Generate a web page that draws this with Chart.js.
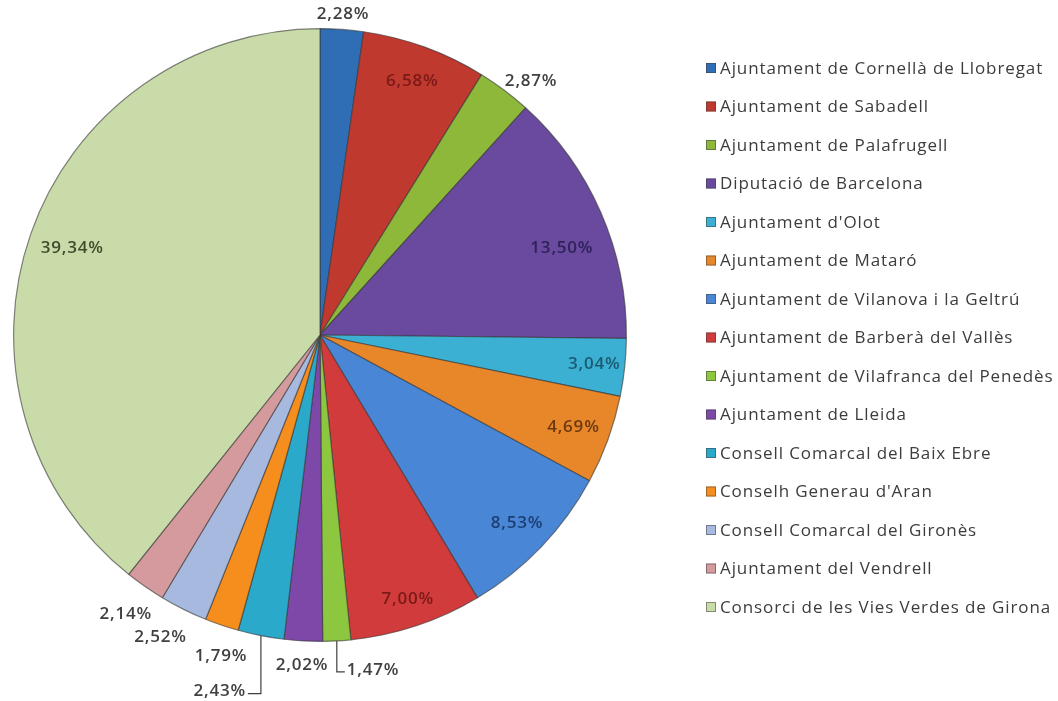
<!DOCTYPE html>
<html>
<head>
<meta charset="utf-8">
<script src="https://cdn.jsdelivr.net/npm/chart.js@4.4.0/dist/chart.umd.min.js"></script>
<style>
  html, body { margin: 0; padding: 0; background: #fff; }
  #wrap { width: 1058px; height: 701px; position: relative; }
</style>
</head>
<body>
<div id="wrap"><canvas id="pie"></canvas></div>
<script>
// data
var entities = [
  "Ajuntament de Cornellà de Llobregat",
  "Ajuntament de Sabadell",
  "Ajuntament de Palafrugell",
  "Diputació de Barcelona",
  "Ajuntament d'Olot",
  "Ajuntament de Mataró",
  "Ajuntament de Vilanova i la Geltrú",
  "Ajuntament de Barberà del Vallès",
  "Ajuntament de Vilafranca del Penedès",
  "Ajuntament de Lleida",
  "Consell Comarcal del Baix Ebre",
  "Conselh Generau d'Aran",
  "Consell Comarcal del Gironès",
  "Ajuntament del Vendrell",
  "Consorci de les Vies Verdes de Girona"
];
var shares = [2.28, 6.58, 2.87, 13.50, 3.04, 4.69, 8.53, 7.00, 1.47, 2.02, 2.43, 1.79, 2.52, 2.14, 39.34];

// styles
var sliceColors = ["#2f6db5", "#c0392f", "#8db83a", "#6a4a9e", "#3bb0d3", "#e8862a",
  "#4a86d6", "#d23b3b", "#8dc63f", "#7e48a8", "#2ba9cb", "#f68e1e",
  "#a7b9de", "#d49a9e", "#c8dba8"];
var textColors = ["#404040", "#7a1a17", "#404040", "#2f2259", "#1c5a72", "#6b3a10",
  "#1c3f73", "#7a1a17", "#404040", "#404040", "#404040", "#404040",
  "#404040", "#404040", "#3f4d2c"];
// where each percentage sits: radius as part of R, small nudges, leader lines
var labelPlace = [
  {r: 1.05, dx: 0, dy: 0},
  {r: 0.88, dx: 0, dy: 0},
  {r: 1.08, dx: 12, dy: 10},
  {r: 0.84, dx: 6, dy: 16},
  {r: 0.90, dx: 0, dy: 0},
  {r: 0.88, dx: 0, dy: 0},
  {r: 0.89, dx: 0, dy: 0},
  {r: 0.91, dx: 0, dy: 0},
  {leader: "right", drop: 31},
  {r: 1.08, dx: 0, dy: 0},
  {leader: "left", drop: 58},
  {r: 1.10, dx: 9, dy: 2},
  {r: 1.11, dx: -8, dy: -2},
  {r: 1.11, dx: 0, dy: 0},
  {r: 0.857, dx: 0, dy: 0}
];

var pctFont = "600 17px 'Open Sans'";
var legendFont = "17px 'Open Sans'";

let fmt = (v) => v.toFixed(2).replace(".", ",") + "%";

var pctLabels = {
  id: "pctLabels",
  afterDatasetsDraw(chart) {
    let ctx = chart.ctx;
    let arcs = chart.getDatasetMeta(0).data;
    ctx.save();
    ctx.font = pctFont;
    ctx.letterSpacing = "0.8px";
    ctx.textBaseline = "middle";
    arcs.forEach(function (arc, i) {
      let p = labelPlace[i];
      let mid = (arc.startAngle + arc.endAngle) / 2;
      let R = arc.outerRadius;
      ctx.fillStyle = textColors[i];
      if (p.leader) {
        let ex = arc.x + Math.cos(mid) * R;
        let ey = arc.y + Math.sin(mid) * R;
        let ly = ey + p.drop;
        let hx = p.leader == "right" ? ex + 8 : ex - 13;
        ctx.strokeStyle = "#404040";
        ctx.lineWidth = 1.2;
        ctx.beginPath();
        ctx.moveTo(ex, ey);
        ctx.lineTo(ex, ly);
        ctx.lineTo(hx, ly);
        ctx.stroke();
        ctx.textAlign = p.leader == "right" ? "left" : "right";
        ctx.fillText(fmt(shares[i]), p.leader == "right" ? hx + 2 : hx - 2, ly - 2);
      } else {
        let x = arc.x + Math.cos(mid) * R * p.r + p.dx;
        let y = arc.y + Math.sin(mid) * R * p.r + p.dy;
        ctx.textAlign = "center";
        ctx.fillText(fmt(shares[i]), x, y);
      }
    });
    ctx.restore();
  }
};

var sideLegend = {
  id: "sideLegend",
  afterDraw(chart) {
    let ctx = chart.ctx;
    ctx.save();
    ctx.font = legendFont;
    ctx.letterSpacing = "0.9px";
    ctx.textBaseline = "middle";
    ctx.textAlign = "left";
    entities.forEach(function (name, i) {
      let y = 68 + i * 38.5;
      ctx.fillStyle = sliceColors[i];
      ctx.fillRect(706, y - 5, 10, 10);
      ctx.strokeStyle = "rgba(60,60,60,0.5)";
      ctx.lineWidth = 1;
      ctx.strokeRect(706.5, y - 4.5, 9, 9);
      ctx.fillStyle = "#3c3c3c";
      ctx.fillText(name, 720, y + 1);
    });
    ctx.restore();
  }
};

let ctx = document.getElementById("pie");
let pieChart = new Chart(ctx, {
  type: "pie",
  data: {
    labels: entities,
    datasets: [{
      data: shares,
      backgroundColor: sliceColors,
      borderColor: "rgba(55,55,55,0.6)",
      borderWidth: 1.2
    }]
  },
  options: {
    responsive: true,
    maintainAspectRatio: false,
    animation: false,
    layout: { padding: { left: 12, right: 430, top: 28, bottom: 59 } },
    plugins: {
      legend: { display: false },
      tooltip: { enabled: false }
    }
  },
  plugins: [pctLabels, sideLegend]
});
</script>
</body>
</html>
